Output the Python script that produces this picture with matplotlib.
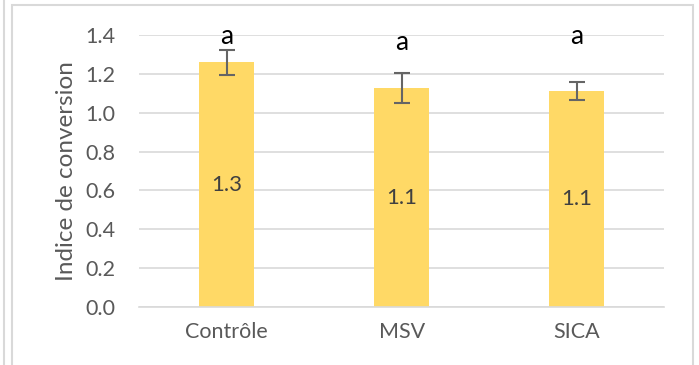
import matplotlib.pyplot as plt
from matplotlib.patches import Rectangle
from matplotlib.lines import Line2D

# Indice de conversion par traitement
groups = ['Contrôle', 'MSV', 'SICA']
ic_mean = [1.26, 1.127, 1.112]
ic_err = [0.065, 0.077, 0.044]
letters = ['a', 'a', 'a']
letter_y = [1.39, 1.36, 1.39]

plt.rcParams['font.family'] = ['Lato', 'DejaVu Sans']

fig = plt.figure(figsize=(6.99, 3.65), dpi=100)
ax = fig.add_axes([0.199, 0.159, 0.751, 0.745])

x = range(len(groups))
ax.bar(x, ic_mean, width=0.31, color='#FFD966', zorder=2)
ax.errorbar(x, ic_mean, yerr=ic_err, fmt='none', ecolor='#656565',
            elinewidth=1.5, capsize=6, capthick=1.5, zorder=3)

for i, v in enumerate(ic_mean):
    ax.text(i, v / 2, '%.1f' % v, ha='center', va='center',
            fontsize=16, color='#404040', zorder=4)
    ax.text(i, letter_y[i], letters[i], ha='center', va='center',
            fontsize=19, color='black', clip_on=False, zorder=4)

ax.set_xlim(-0.5, 2.5)
ax.set_ylim(0, 1.4)
ax.set_yticks([0, 0.2, 0.4, 0.6, 0.8, 1.0, 1.2, 1.4])
ax.set_yticklabels(['%.1f' % t for t in ax.get_yticks()])
ax.set_xticks(list(x))
ax.set_xticklabels(groups)
ax.tick_params(axis='both', length=0, labelsize=15.5, labelcolor='#595959')
ax.tick_params(axis='y', pad=17)
ax.tick_params(axis='x', pad=11)
ax.set_ylabel('Indice de conversion', fontsize=17.5, color='#595959', labelpad=6)

ax.grid(axis='y', color='#d9d9d9', linewidth=1.2, zorder=0)
ax.set_axisbelow(True)
for s in ['top', 'right', 'left']:
    ax.spines[s].set_visible(False)
ax.spines['bottom'].set_color('#d9d9d9')
ax.spines['bottom'].set_linewidth(1.2)

# cadre du graphique
fig.patches.append(Rectangle((12 / 699, -0.1), 681 / 699, 1.1 - 5 / 365,
                             transform=fig.transFigure, fill=False,
                             edgecolor='#d9d9d9', linewidth=1.5))
fig.lines.append(Line2D([3.5 / 699, 3.5 / 699], [0, 1], transform=fig.transFigure,
                        color='#d9d9d9', linewidth=1.5))

fig.savefig('out.png', dpi=100)
